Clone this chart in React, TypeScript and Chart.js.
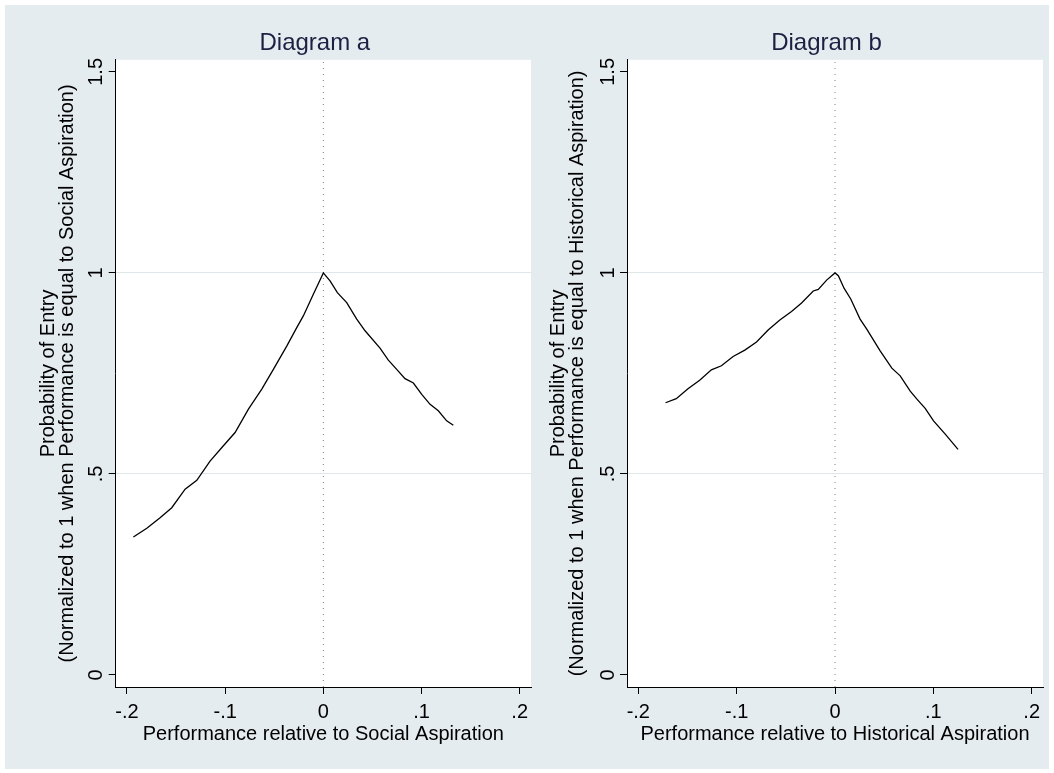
import React, { useEffect, useRef } from "react";
import { Chart, registerables } from "chart.js";

Chart.register(...registerables);

// ---- data ----
const X_TICKS = [-0.2, -0.1, 0, 0.1, 0.2];
const X_TICK_LABELS = ["-.2", "-.1", "0", ".1", ".2"];
const Y_TICKS = [0, 0.5, 1, 1.5];
const Y_TICK_LABELS = ["0", ".5", "1", "1.5"];
const Y_GRID_VALUES = [0.5, 1];
const X_MIN = -0.2115;
const X_MAX = 0.2115;
const Y_MIN = -0.03;
const Y_MAX = 1.53;
const REF_X = 0;

const TITLE_A = "Diagram a";
const TITLE_B = "Diagram b";
const X_TITLE_A = "Performance relative to Social Aspiration";
const X_TITLE_B = "Performance relative to Historical Aspiration";
const Y_TITLE_A = ["Probability of Entry", "(Normalized to 1 when Performance is equal to Social Aspiration)"];
const Y_TITLE_B = ["Probability of Entry", "(Normalized to 1 when Performance is equal to Historical Aspiration)"];

const A_X = [-0.1935, -0.1798, -0.1663, -0.1544, -0.1408, -0.1289, -0.1154, -0.1018, -0.0899, -0.0763, -0.0627, -0.0509, -0.0373, -0.0271, -0.0204, -0.0102, 0, 0.0068, 0.0143, 0.0238, 0.034, 0.0425, 0.0577, 0.0662, 0.0747, 0.0832, 0.0917, 0.1002, 0.1087, 0.1171, 0.1256, 0.1324];
const A_Y = [0.343, 0.365, 0.391, 0.416, 0.462, 0.484, 0.532, 0.57, 0.603, 0.661, 0.711, 0.76, 0.818, 0.864, 0.893, 0.947, 1.0, 0.98, 0.951, 0.926, 0.885, 0.856, 0.813, 0.783, 0.76, 0.737, 0.726, 0.698, 0.673, 0.657, 0.632, 0.621];

const B_X = [-0.1723, -0.1614, -0.1495, -0.1376, -0.1257, -0.1155, -0.1036, -0.0917, -0.0798, -0.068, -0.0561, -0.0442, -0.034, -0.0221, -0.017, -0.0085, 0, 0.0034, 0.0092, 0.016, 0.0255, 0.0323, 0.0459, 0.0578, 0.0663, 0.0765, 0.0833, 0.0917, 0.1002, 0.1121, 0.1251];
const B_Y = [0.677, 0.687, 0.712, 0.733, 0.759, 0.769, 0.792, 0.808, 0.828, 0.858, 0.883, 0.904, 0.925, 0.955, 0.959, 0.982, 1.0, 0.993, 0.962, 0.935, 0.885, 0.86, 0.806, 0.763, 0.744, 0.706, 0.686, 0.663, 0.632, 0.599, 0.561];

// ---- style ----
const FONT = "'Liberation Sans', Arial, Helvetica, sans-serif";
const BG = "#e5ecef";
const TITLE_COLOR = "#1c2142";
const GRID_COLOR = "#dfe7eb";

const bgPlugin = {
  id: "bgPlugin",
  afterLayout(chart: any) {
    const ca = chart.chartArea;
    if (chart.titleBlock) {
      chart.titleBlock.left = ca.left - 17;
      chart.titleBlock.right = ca.right;
    }
  },
  beforeDraw(chart: any) {
    const { ctx, chartArea: ca, width, height } = chart;
    ctx.save();
    ctx.fillStyle = BG;
    ctx.fillRect(0, 0, width, height);
    ctx.fillStyle = "#ffffff";
    ctx.fillRect(ca.left, ca.top, ca.right - ca.left, ca.bottom - ca.top);
    ctx.restore();
  },
};

function labelFor(ticks: number[], labels: string[], v: number) {
  const i = ticks.findIndex((t) => Math.abs(t - v) < 1e-9);
  return i >= 0 ? labels[i] : "";
}

type PanelProps = {
  left: number;
  width: number;
  yWidth: number;
  yTitlePad: number;
  padRight: number;
  title: string;
  xTitle: string;
  yTitle: string[];
  xs: number[];
  ys: number[];
};

function Panel(p: PanelProps) {
  const ref = useRef<HTMLCanvasElement>(null);
  useEffect(() => {
    const chart = new Chart(ref.current as HTMLCanvasElement, {
      type: "line",
      data: {
        datasets: [
          {
            data: p.xs.map((x, i) => ({ x, y: p.ys[i] })),
            borderColor: "#000000",
            borderWidth: 1.3,
            pointRadius: 0,
            tension: 0,
            fill: false,
          },
          {
            data: [
              { x: REF_X, y: Y_MIN },
              { x: REF_X, y: Y_MAX },
            ],
            borderColor: "#808080",
            borderWidth: 1,
            borderDash: [1, 5],
            pointRadius: 0,
            fill: false,
          },
        ],
      },
      options: {
        responsive: false,
        maintainAspectRatio: false,
        animation: false,
        layout: { padding: { left: 0, right: p.padRight, top: 0, bottom: 0 } },
        plugins: {
          legend: { display: false },
          tooltip: { enabled: false },
          title: {
            display: true,
            text: p.title,
            color: TITLE_COLOR,
            font: { family: FONT, size: 24, weight: "normal" },
            padding: { top: 24, bottom: 2 },
          },
        },
        scales: {
          x: {
            type: "linear",
            position: "bottom",
            min: X_MIN,
            max: X_MAX,
            afterBuildTicks: (s: any) => {
              s.ticks = X_TICKS.map((v) => ({ value: v }));
            },
            afterFit: (s: any) => {
              s.height = 82;
            },
            ticks: {
              autoSkip: false,
              maxRotation: 0,
              padding: 6,
              color: "#000000",
              font: { family: FONT, size: 20 },
              callback: (v: any) => labelFor(X_TICKS, X_TICK_LABELS, Number(v)),
            },
            grid: {
              drawOnChartArea: false,
              drawTicks: true,
              tickLength: 7,
              tickColor: "#000000",
              tickWidth: 1,
            },
            border: { display: true, color: "#000000", width: 1 },
            title: {
              display: true,
              text: p.xTitle,
              color: "#000000",
              font: { family: FONT, size: 20 },
              padding: { top: 0, bottom: 22.5 },
            },
          },
          y: {
            type: "linear",
            position: "left",
            min: Y_MIN,
            max: Y_MAX,
            afterBuildTicks: (s: any) => {
              s.ticks = Y_TICKS.map((v) => ({ value: v }));
            },
            afterFit: (s: any) => {
              s.width = p.yWidth;
            },
            ticks: {
              autoSkip: false,
              minRotation: 90,
              maxRotation: 90,
              crossAlign: "center",
              padding: -2,
              color: "#000000",
              font: { family: FONT, size: 20 },
              callback: (v: any) => labelFor(Y_TICKS, Y_TICK_LABELS, Number(v)),
            },
            grid: {
              drawOnChartArea: true,
              drawTicks: true,
              tickLength: 7,
              tickColor: "#000000",
              tickWidth: 1,
              lineWidth: 1,
              color: (ctx: any) =>
                ctx.tick && Y_GRID_VALUES.some((g) => Math.abs(g - ctx.tick.value) < 1e-9)
                  ? GRID_COLOR
                  : "rgba(0,0,0,0)",
            },
            border: { display: true, color: "#000000", width: 1 },
            title: {
              display: true,
              text: p.yTitle,
              color: "#000000",
              font: { family: FONT, size: 20, lineHeight: 0.95 },
              padding: { top: p.yTitlePad, bottom: 0 },
            },
          },
        },
      } as any,
      plugins: [bgPlugin],
    });
    return () => chart.destroy();
  }, []);
  return (
    <canvas
      ref={ref}
      width={p.width}
      height={764}
      style={{ position: "absolute", left: p.left, top: 5, width: p.width, height: 764 }}
    />
  );
}

export default function App() {
  return (
    <div style={{ position: "absolute", left: 0, top: 0, width: 1054, height: 773, background: "#ffffff", overflow: "hidden" }}>
      <Panel left={5} width={530} yWidth={110.7} yTitlePad={33.5} padRight={4} title={TITLE_A} xTitle={X_TITLE_A} yTitle={Y_TITLE_A} xs={A_X} ys={A_Y} />
      <Panel left={535} width={514} yWidth={92} yTitlePad={13.5} padRight={6} title={TITLE_B} xTitle={X_TITLE_B} yTitle={Y_TITLE_B} xs={B_X} ys={B_Y} />
    </div>
  );
}
